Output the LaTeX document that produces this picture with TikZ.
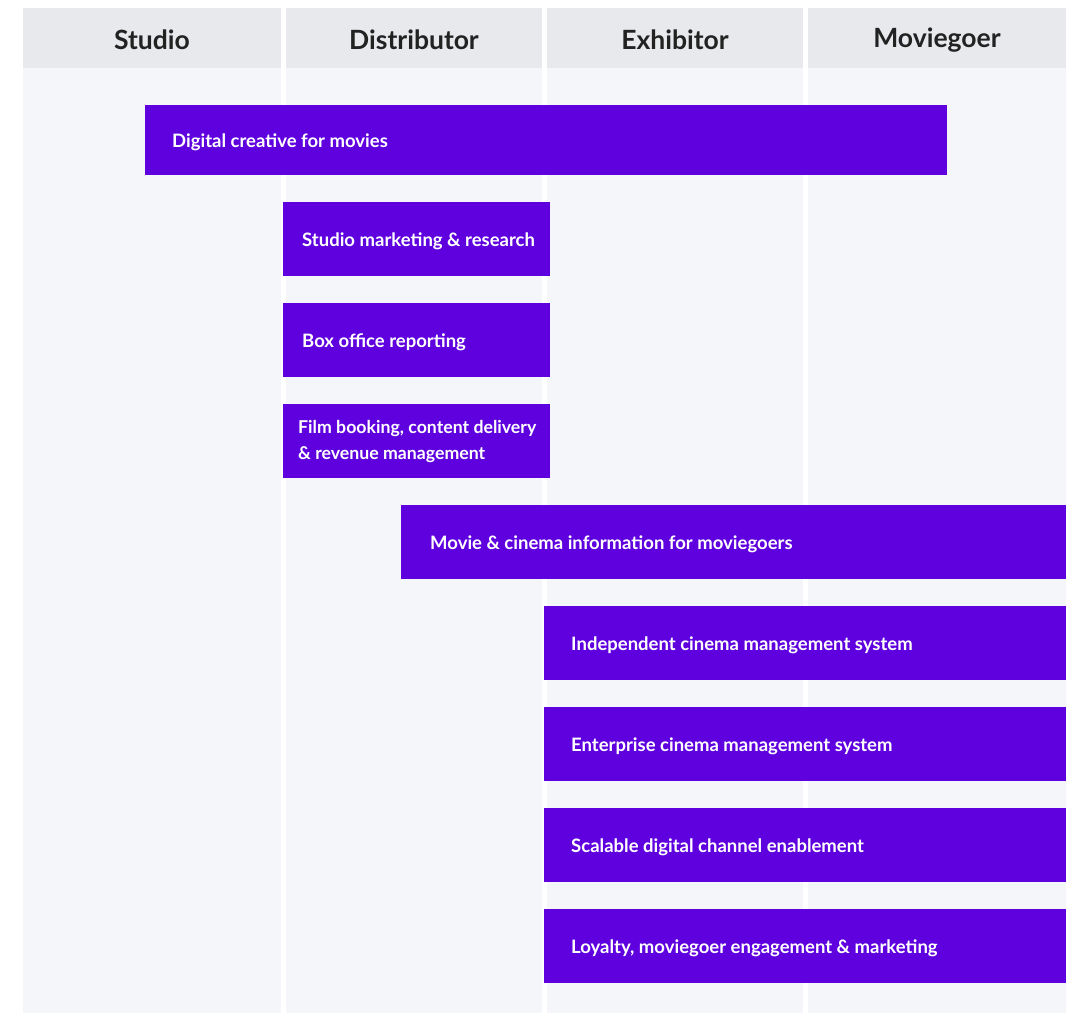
\documentclass[tikz,border=0pt]{standalone}
\usepackage{fontspec}
\setmainfont{Lato}
\definecolor{hdr}{HTML}{E8E9ED}
\definecolor{bodybg}{HTML}{F5F6FA}
\definecolor{purp}{HTML}{5F00DF}
\definecolor{hdrtext}{HTML}{222222}
\begin{document}
\begin{tikzpicture}[x=1pt,y=-1pt,
  colhead/.style={fill=hdr, draw=none},
  colbody/.style={fill=bodybg, draw=none},
  headtext/.style={font=\fontsize{26.5}{30}\selectfont\bfseries, text=hdrtext, inner sep=0pt},
  bar/.style={fill=purp, draw=none, inner sep=0pt, anchor=north west},
  bartext/.style={font=\fontsize{18.5}{26}\selectfont\bfseries, text=white, inner sep=0pt, anchor=base west},
  bartwo/.style={font=\fontsize{17.7}{26}\selectfont\bfseries, text=white, inner sep=0pt, anchor=west, align=left}
]
\useasboundingbox (0,0) rectangle (1068,1013);
\fill[white] (0,0) rectangle (1068,1013);
% columns
\foreach \l/\r/\n in {23/281/c1,286/542/c2,547/803/c3,808/1066/c4}{
  \fill[colhead] (\l,8) rectangle (\r,68);
  \fill[colbody] (\l,68) rectangle (\r,1013);
}
\node[headtext] (h1) at (152,40) {Studio};
\node[headtext] (h2) at (414,40) {Distributor};
\node[headtext] (h3) at (675,40) {Exhibitor};
\node[headtext] (h4) at (937,40) {Moviegoer};
% bars
\node[bar, minimum width=802, minimum height=70] (b1) at (145,105) {};
\node[bartext] (t1) at ([xshift=27pt,yshift=-7pt]b1.west) {Digital creative for movies};
\node[bar, minimum width=267, minimum height=74] (b2) at (283,202) {};
\node[bartext] (t2) at ([xshift=19pt,yshift=-7pt]b2.west) {Studio marketing \& research};
\node[bar, minimum width=267, minimum height=74] (b3) at (283,303) {};
\node[bartext] (t3) at ([xshift=19pt,yshift=-7pt]b3.west) {Box office reporting};
\node[bar, minimum width=267, minimum height=74] (b4) at (283,404) {};
\node[bartwo] (t4) at ([xshift=15pt]b4.west) {Film booking, content delivery\\\& revenue management};
\node[bar, minimum width=665, minimum height=74] (b5) at (401,505) {};
\node[bartext] (t5) at ([xshift=29pt,yshift=-7pt]b5.west) {Movie \& cinema information for moviegoers};
\node[bar, minimum width=522, minimum height=74] (b6) at (544,606) {};
\node[bartext] (t6) at ([xshift=27pt,yshift=-7pt]b6.west) {Independent cinema management system};
\node[bar, minimum width=522, minimum height=74] (b7) at (544,707) {};
\node[bartext] (t7) at ([xshift=27pt,yshift=-7pt]b7.west) {Enterprise cinema management system};
\node[bar, minimum width=522, minimum height=74] (b8) at (544,808) {};
\node[bartext] (t8) at ([xshift=27pt,yshift=-7pt]b8.west) {Scalable digital channel enablement};
\node[bar, minimum width=522, minimum height=74] (b9) at (544,909) {};
\node[bartext] (t9) at ([xshift=27pt,yshift=-7pt]b9.west) {Loyalty, moviegoer engagement \& marketing};
\end{tikzpicture}
\end{document}
